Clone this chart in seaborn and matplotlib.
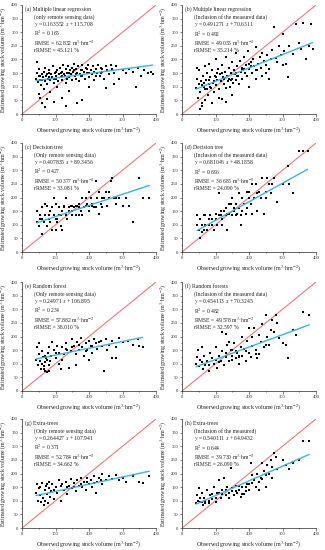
import matplotlib
matplotlib.use("Agg")
import matplotlib.pyplot as plt
import seaborn as sns
import pandas as pd
import numpy as np
from matplotlib.ticker import MultipleLocator

# ---------------- data ----------------
a_obs = [42,45,48,50,52,55,58,60,62,65,
         68,70,72,75,78,80,82,85,88,90,
         92,95,98,100,102,105,108,110,112,115,
         118,120,122,125,128,130,132,135,138,140,
         142,145,148,150,152,155,158,160,162,165,
         168,170,172,175,178,180,185,188,190,195,
         198,200,205,210,212,215,220,225,228,232,
         235,240,245,250,255,260,265,270,275,280,
         45,50,55,60,65,70,75,85,95,105,
         120,130,140,165,180,200,250,275,290,300,
         310,320,330,340,345,355,365,375,385,390,
         60,80,100,120,140,160,180,200,220,240,
         55,75,95,115,135,155,175,195,215,235]
a_est = [130,150,118,140,165,125,105,145,135,155,
         120,170,140,110,130,150,160,125,145,135,
         175,115,150,140,130,160,120,145,170,135,
         155,125,180,145,140,165,115,150,175,135,
         160,145,125,170,155,185,140,130,165,150,
         175,120,145,160,180,140,155,130,170,150,
         180,135,160,145,175,125,165,150,180,140,
         170,155,130,175,160,145,180,165,150,175,
         190,75,60,40,90,25,55,80,45,100,
         60,30,85,40,50,100,95,110,130,160,
         150,165,155,100,170,140,160,150,155,145,
         125,135,155,140,150,145,160,150,140,165,
         140,145,130,150,130,160,140,165,155,150]

b_obs = [42,45,48,50,52,55,58,60,62,65,
         68,70,72,75,78,80,82,85,88,90,
         92,95,98,100,102,105,108,110,112,115,
         118,120,122,125,128,130,132,135,138,140,
         142,145,148,150,152,155,158,160,162,165,
         168,170,172,175,178,180,185,188,190,195,
         198,200,205,210,212,215,220,225,228,232,
         235,240,245,250,255,260,265,270,275,280,
         285,290,295,300,305,310,315,320,330,340,
         350,355,360,370,380,385,390,300,260,240,
         55,60,70,90,110,130,150,200,220,45,
         60,80,100,120,140,160,180,200,220,250,
         65,85,105,125,145,165,185,205,75,95]
b_est = [95,130,60,110,160,80,120,30,140,100,
         175,90,125,150,70,110,185,135,95,160,
         115,80,140,200,105,125,165,90,145,120,
         180,55,135,110,155,95,210,140,120,170,
         100,150,190,130,115,160,145,225,125,175,
         140,110,195,155,165,130,210,150,180,140,
         230,165,190,150,200,175,245,160,185,210,
         170,225,195,180,215,165,200,235,320,205,
         190,250,215,295,230,185,135,250,220,330,
         260,240,335,200,250,330,240,180,130,140,
         20,40,50,40,60,45,70,100,130,170,
         105,125,135,150,130,150,170,185,160,150,
         115,100,150,130,125,140,165,175,90,120]

c_obs = [45,50,55,60,65,70,75,80,85,90,
         95,100,105,110,115,120,125,130,135,140,
         145,150,155,160,165,170,175,180,185,190,
         195,200,205,210,215,220,225,230,235,240,
         245,250,255,260,265,270,275,280,290,300,
         310,330,350,360,380,320,45,55,60,70,
         75,85,90,100,105,110,115,120,125,130,
         140,150,160,170,180,190,200,210,220,230,
         60,80,100,150,170,200,240,260,280,95]
c_est = [110,95,120,65,110,135,95,120,110,80,
         135,80,120,165,135,150,170,135,120,165,
         170,150,165,135,170,175,150,200,165,170,
         175,150,200,170,165,260,200,220,175,165,
         200,220,170,200,260,270,200,175,200,170,
         200,110,270,200,200,170,150,135,165,175,
         170,150,165,175,110,135,95,80,165,200,
         150,135,170,165,135,200,220,175,165,140,
         120,135,120,170,135,170,200,220,200,200]

d_obs = [45,50,55,60,65,70,75,80,85,90,
         95,100,105,110,115,120,125,130,135,140,
         145,150,155,160,165,170,175,180,185,190,
         195,200,205,210,215,220,225,230,235,240,
         245,250,255,260,265,270,275,285,300,315,
         330,350,360,375,320,55,60,70,80,100,
         110,120,130,140,150,160,170,180,200,210,
         45,65,90,115,135,155,175,195,225,250]
d_est = [100,80,120,75,135,100,80,120,135,100,
         80,140,100,215,135,120,150,135,80,140,
         175,135,150,175,140,160,100,200,175,140,
         220,200,175,140,200,250,215,220,200,270,
         140,220,270,250,215,250,270,185,250,315,
         215,370,370,370,250,50,100,135,100,120,
         135,100,160,175,200,135,215,150,220,250,
         135,80,120,150,140,160,135,160,150,200]

e_obs = [42,45,48,50,52,55,58,60,62,65,
         68,70,72,75,78,80,82,85,88,90,
         95,100,105,110,115,120,125,130,135,140,
         145,150,155,160,165,170,175,180,185,190,
         195,200,205,210,215,220,225,230,240,245,
         250,255,260,270,280,290,300,315,330,345,
         350,360,280,270,200,160,120,65,70,80,
         60,75,100,110,130,150,170,190,210,235]
e_est = [115,160,95,135,175,110,80,145,125,90,
         75,105,120,70,140,95,160,110,130,180,
         150,120,165,140,80,160,135,175,150,85,
         145,190,165,135,180,150,195,160,130,175,
         150,185,165,140,190,175,155,180,165,75,
         190,150,170,185,160,195,180,185,170,190,
         165,160,120,120,115,95,115,80,130,75,
         100,115,140,100,155,160,170,145,165,185]

f_obs = [42,45,48,50,55,60,62,65,70,75,
         80,85,90,95,100,105,110,115,120,125,
         130,135,140,145,150,155,160,165,170,175,
         180,185,190,195,200,205,210,215,220,225,
         230,235,240,245,250,255,260,265,270,275,
         280,285,290,300,310,315,330,340,360,380,
         120,130,140,150,160,170,180,200,210,230,
         60,80,100,110,130,150,170,190,220,250]
f_est = [100,125,150,90,115,160,80,130,95,110,
         75,140,120,100,160,85,130,110,145,95,
         125,170,110,150,130,175,120,140,100,160,
         130,155,110,185,140,125,165,230,150,120,
         135,180,245,160,280,200,170,225,260,215,
         280,250,195,175,170,120,225,205,290,280,
         215,210,180,150,145,125,200,230,200,205,
         105,95,115,105,140,115,130,145,135,170]

g_obs = [42,45,48,50,55,58,60,62,65,68,
         70,72,75,78,80,82,85,88,90,95,
         100,105,110,115,120,125,130,135,140,145,
         150,155,160,165,170,175,180,185,190,195,
         200,205,210,215,220,225,230,240,250,260,
         270,280,290,300,310,330,350,360,380,240,
         55,75,95,115,135,155,175,195,215,235]
g_est = [130,160,100,145,120,95,165,110,85,140,
         100,155,125,90,145,170,115,135,160,105,
         150,130,175,100,160,140,170,125,155,180,
         145,165,135,175,155,185,150,170,140,185,
         160,175,150,190,130,170,185,160,175,190,
         180,195,175,185,170,190,170,165,190,200,
         150,160,140,155,150,150,160,170,165,175]

h_obs = [42,45,48,50,55,60,62,65,70,75,
         80,85,90,95,100,105,110,115,120,125,
         130,135,140,145,150,155,160,165,170,175,
         180,185,190,195,200,205,210,215,220,225,
         230,235,240,245,250,255,260,265,270,275,
         280,285,300,310,320,330,350,360,380,270,
         60,80,100,120,140,160,180,200,230,250,
         55,70,90,110,130,150,170,190,210,240]
h_est = [90,120,100,145,95,130,85,110,100,140,
         90,120,105,150,95,130,175,110,140,185,
         120,150,110,220,135,120,155,130,140,115,
         150,125,135,160,140,240,195,175,150,200,
         170,185,240,210,195,230,200,250,225,275,
         260,215,250,230,215,240,250,320,320,185,
         95,100,110,125,130,135,125,160,140,150,
         110,90,125,130,140,145,155,150,165,180]

panel_obs = [a_obs, b_obs, c_obs, d_obs, e_obs, f_obs, g_obs, h_obs]
panel_est = [a_est, b_est, c_est, d_est, e_est, f_est, g_est, h_est]

slopes = [0.163552, 0.491271, 0.407835, 0.681046, 0.24971, 0.454113, 0.264427, 0.540111]
intercepts = [115.708, 70.6311, 89.3456, 48.1858, 106.895, 70.3245, 107.941, 64.9432]

titles = ["(a) Multiple linear regression", "(b) Multiple linear regression",
          "(c) Decision tree", "(d) Decision tree",
          "(e) Random forest", "(f) Random forests",
          "(g) Extra-trees", "(h) Extra-trees"]
subtitles = ["(only remote sensing data)", "(Inclusion of the measured data)",
             "(Only remote sensing data)", "(Inclusion of the measured data)",
             "(Only remote sensing data)", "(Inclusion of the measured data)",
             "(Only remote sensing data)", "(Inclusion of the measured)"]
slope_txt = ["0.163552", "0.491271", "0.407835", "0.681046", "0.24971", "0.454113", "0.264427", "0.540111"]
icpt_txt = ["115.708", "70.6311", "89.3456", "48.1858", "106.895", "70.3245", "107.941", "64.9432"]
r2_txt = ["0.165", "0.492", "0.427", "0.696", "0.234", "0.482", "0.371", "0.644"]
rmse_txt = ["62.832", "49.035", "50.377", "36.685", "57.882", "49.578", "52.784", "39.730"]
rrmse_txt = ["45.121", "35.214", "33.081", "24.090", "38.010", "32.597", "34.662", "26.090"]

x_label = "Observed growing stock volume (m$^{3}$·hm$^{-2}$)"
y_label = "Estimated growing stock volume (m$^{3}$·hm$^{-2}$)"

# ---------------- style ----------------
sns.set_theme(style="ticks")
plt.rcParams["font.family"] = ["Liberation Serif", "DejaVu Serif"]
plt.rcParams["mathtext.fontset"] = "stix"

W, H = 325, 550
fig = plt.figure(figsize=(W / 100, H / 100), dpi=100)

col_left = [22, 182]
ax_w = 134
row_top = [5, 143, 282, 419]
ax_h = 109

red = "#f07878"
blue = "#34b6ec"

for i in range(8):
    r, c = divmod(i, 2)
    left = col_left[c] / W
    bottom = 1 - (row_top[r] + ax_h) / H
    ax = fig.add_axes([left, bottom, ax_w / W, ax_h / H])

    df = pd.DataFrame({"obs": panel_obs[i], "est": panel_est[i]})
    sns.lineplot(x=[0, 400], y=[0, 400], ax=ax, color=red, lw=0.8, zorder=1)
    sns.scatterplot(data=df, x="obs", y="est", ax=ax, color="black", marker="s",
                    s=2.0, linewidth=0, zorder=2)
    xs = np.array([min(panel_obs[i]), max(panel_obs[i])], dtype=float)
    sns.lineplot(x=xs, y=slopes[i] * xs + intercepts[i], ax=ax, color=blue, lw=1.0, zorder=3)

    ax.set_xlim(0, 400)
    ax.set_ylim(0, 400)
    ax.xaxis.set_major_locator(MultipleLocator(100))
    ax.xaxis.set_minor_locator(MultipleLocator(50))
    ax.yaxis.set_major_locator(MultipleLocator(50))
    ax.yaxis.set_minor_locator(MultipleLocator(25))
    ax.tick_params(axis="both", which="major", labelsize=3.3, length=1.8, width=0.4, pad=1)
    ax.tick_params(axis="both", which="minor", length=1.0, width=0.4)
    for s in ["top", "right"]:
        ax.spines[s].set_visible(False)
    for s in ["left", "bottom"]:
        ax.spines[s].set_linewidth(0.5)
    ax.set_xlabel(x_label, fontsize=4.2, labelpad=2.5)
    ax.set_ylabel(y_label, fontsize=4.2, labelpad=1.5)

    fs = 4.1
    ax.text(0.025, 0.99, titles[i], transform=ax.transAxes, fontsize=fs, va="top", ha="left")
    block = "\n".join([subtitles[i],
                       "$y$ = " + slope_txt[i] + " $x$ + " + icpt_txt[i],
                       "R$^{2}$ = " + r2_txt[i],
                       "RMSE = " + rmse_txt[i] + " m$^{3}$·hm$^{-2}$",
                       "rRMSE = " + rrmse_txt[i] + " %"])
    ax.text(0.087, 0.99 - 0.072, block, transform=ax.transAxes,
            fontsize=fs, va="top", ha="left", linespacing=1.0)

fig.savefig("out.png", dpi=100)
